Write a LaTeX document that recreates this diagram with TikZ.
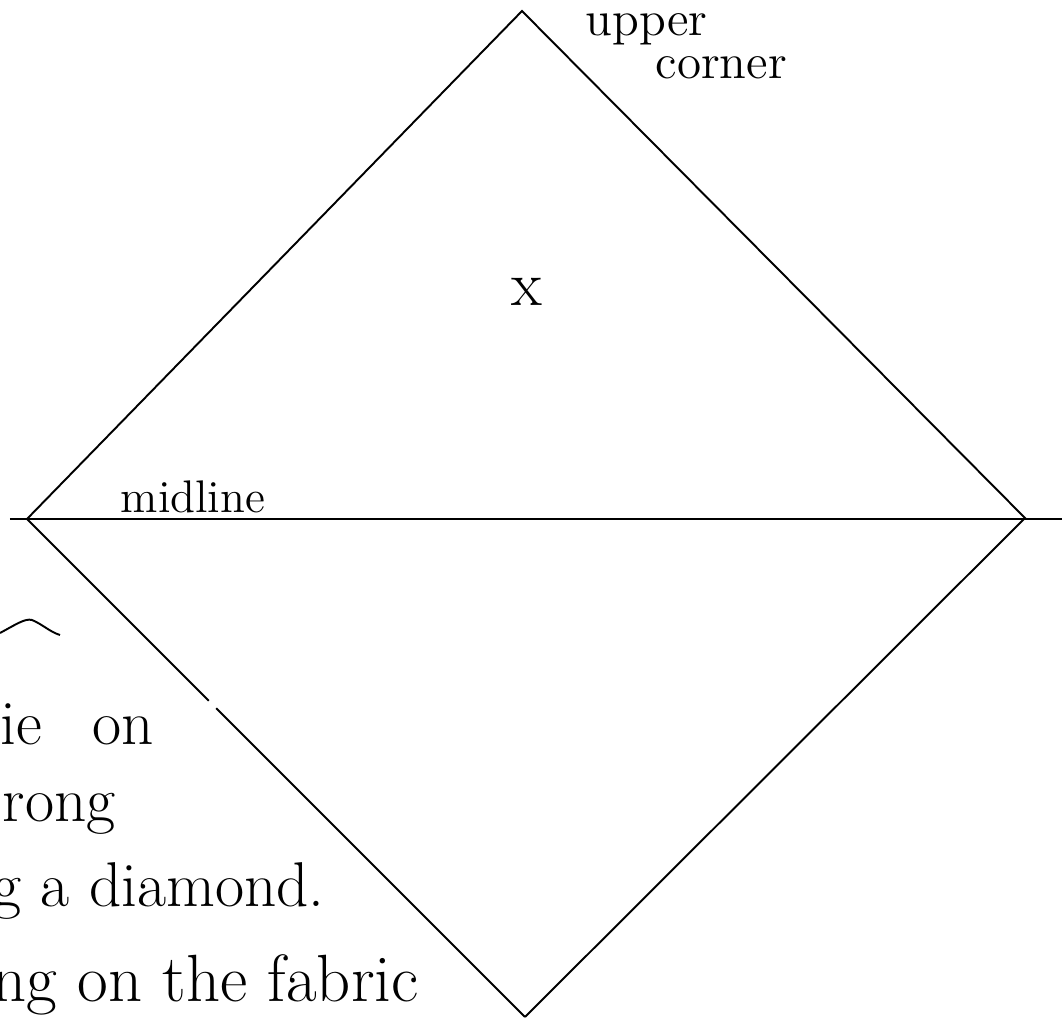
\documentclass[tikz,border=0pt]{standalone}
\usepackage{tikz}

\begin{document}
\begin{tikzpicture}[x=0.01cm, y=-0.01cm,
  edge/.style={line width=0.55pt},
  hand/.style={inner sep=0pt, anchor=base west},
  big/.style={hand, font=\fontsize{18}{21}\selectfont}]
  \useasboundingbox (0,0) rectangle (1062,1021);

  \coordinate (top) at (522,11);
  \coordinate (left) at (27,519);
  \coordinate (right) at (1025,518);
  \coordinate (bottom) at (525,1017);
  \coordinate (mida) at (10,519);
  \coordinate (midb) at (1062,519);
  \path (left) -- (bottom) coordinate[pos=0.365] (gapa) coordinate[pos=0.38] (gapb);

  \draw[edge] (left) -- (top) -- (right) -- (bottom);
  \draw[edge] (left) -- (gapa) (gapb) -- (bottom);
  \draw[line width=0.7pt] (mida) -- (midb);

  \node[hand, font=\fontsize{13}{15}\selectfont] (midlbl) at (120,513) {midline};
  \node[hand, font=\fontsize{14}{16}\selectfont] (upper) at (585,35) {upper};
  \node[hand, font=\fontsize{14}{16}\selectfont] (corner) at (655,78) {corner};
  \node[font=\fontsize{18}{20}\selectfont] (cross) at (527,292) {x};

  % note cut off at the left edge
  \draw[edge] (0,633) .. controls (15,625) and (25,618) .. (32,620)
    .. controls (42,624) and (50,632) .. (60,635);
  \node[big] (l1) at (0,745) {ie\hspace{0.8em}on};
  \node[big] (l2) at (2,822) {rong};
  \node[big] (l3) at (-8,907) {g a diamond.};
  \node[big, font=\fontsize{19}{22}\selectfont] (l4) at (-8,1002) {ng on the fabric};
\end{tikzpicture}
\end{document}
